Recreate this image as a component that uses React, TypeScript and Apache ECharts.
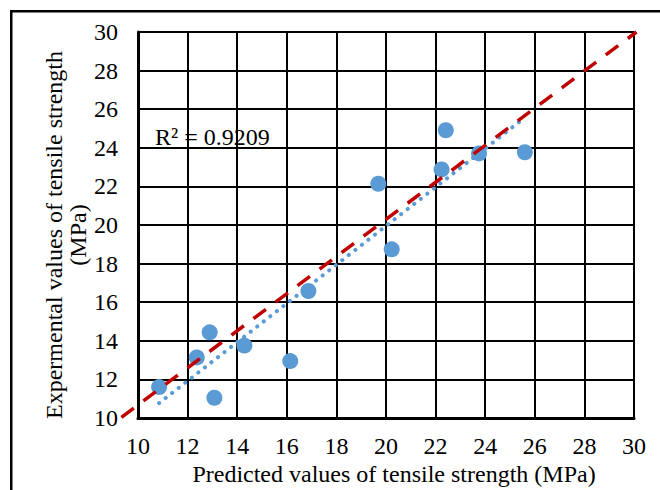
import React, { useEffect, useRef } from "react";
import * as echarts from "echarts";

// Predicted vs. experimental tensile strength (MPa)
const predicted = [10.85, 12.37, 12.89, 13.08, 14.29, 16.14, 16.87, 19.69, 20.23, 22.24, 22.41, 23.75, 25.6];
const experimental = [11.6, 13.14, 14.44, 11.05, 13.75, 12.95, 16.58, 22.14, 18.74, 22.88, 24.91, 23.71, 23.77];

// Linear trendline end points
const trendX = [10.85, 25.6];
const trendY = [10.77, 25.57];

// Red dashed reference line end points (starts just left of the y axis)
const refX = [9.33, 30.1];
const refY = [10.03, 30.0];

const axisTicks = [10, 30, 2]; // min, max, interval
const rSquaredLabel = "R² = 0.9209";
const xTitle = "Predicted values of tensile strength (MPa)";
const yTitleLines = ["Expermental values of tensile strength", "(MPa)"];

const FONT = "'Liberation Serif', 'Times New Roman', serif";
const FS = 24;

export default function App() {
  const ref = useRef<HTMLDivElement>(null);

  useEffect(() => {
    document.body.style.margin = "0";
    const chart = echarts.init(ref.current!, undefined, { renderer: "svg" });
    const [min, max, interval] = axisTicks;

    const axisCommon = {
      type: "value" as const,
      min,
      max,
      interval,
      axisLine: { show: true, lineStyle: { color: "#000", width: 3 } },
      axisTick: { show: false },
      splitLine: { show: true, lineStyle: { color: "#000", width: 2 } },
    };

    const textStyle = (text: string, align: string) => ({
      text,
      fill: "#000",
      font: `${FS}px ${FONT}`,
      textAlign: align,
      textVerticalAlign: "middle",
    });

    chart.setOption({
      animation: false,
      backgroundColor: "#fff",
      grid: { left: 138, right: 26, top: 32, bottom: 72 },
      xAxis: {
        ...axisCommon,
        axisLabel: { color: "#000", fontFamily: FONT, fontSize: FS, margin: 16 },
      },
      yAxis: {
        ...axisCommon,
        axisLabel: { color: "#000", fontFamily: FONT, fontSize: FS, margin: 20 },
      },
      series: [
        {
          type: "scatter",
          data: predicted.map((x, i) => [x, experimental[i]]),
          symbolSize: 16,
          itemStyle: { color: "#5B9BD5", opacity: 1 },
          z: 2,
        },
        {
          type: "line",
          data: trendX.map((x, i) => [x, trendY[i]]),
          showSymbol: false,
          symbol: "none",
          lineStyle: { color: "#5B9BD5", width: 4, type: [0.1, 8.2], cap: "round" },
          z: 3,
        },
      ],
    });

    // Reference line, placed through the grid's own coordinate mapping so it
    // may extend past the axis line on the left.
    const p0 = chart.convertToPixel({ gridIndex: 0 }, [refX[0], refY[0]]) as number[];
    const p1 = chart.convertToPixel({ gridIndex: 0 }, [refX[1], refY[1]]) as number[];

    chart.setOption({
      graphic: [
        {
          type: "rect",
          shape: { x: 11.25, y: 11.25, width: 800, height: 800 },
          style: { fill: "none", stroke: "#000", lineWidth: 2.5 },
          silent: true,
        },
        {
          type: "line",
          shape: { x1: p0[0], y1: p0[1], x2: p1[0], y2: p1[1] },
          style: { stroke: "#C00000", lineWidth: 3.5, lineDash: [15.5, 12] },
          z: 10,
          silent: true,
        },
        { type: "text", x: 155, y: 137, style: textStyle(rSquaredLabel, "left") },
        { type: "text", x: 394, y: 474, style: textStyle(xTitle, "center") },
        {
          type: "text",
          x: 54,
          y: 235,
          rotation: Math.PI / 2,
          style: textStyle(yTitleLines[0], "center"),
        },
        {
          type: "text",
          x: 78,
          y: 235,
          rotation: Math.PI / 2,
          style: textStyle(yTitleLines[1], "center"),
        },
      ],
    });

    return () => chart.dispose();
  }, []);

  return (
    <div
      ref={ref}
      style={{ position: "fixed", left: 0, top: 0, width: 660, height: 490 }}
    />
  );
}
